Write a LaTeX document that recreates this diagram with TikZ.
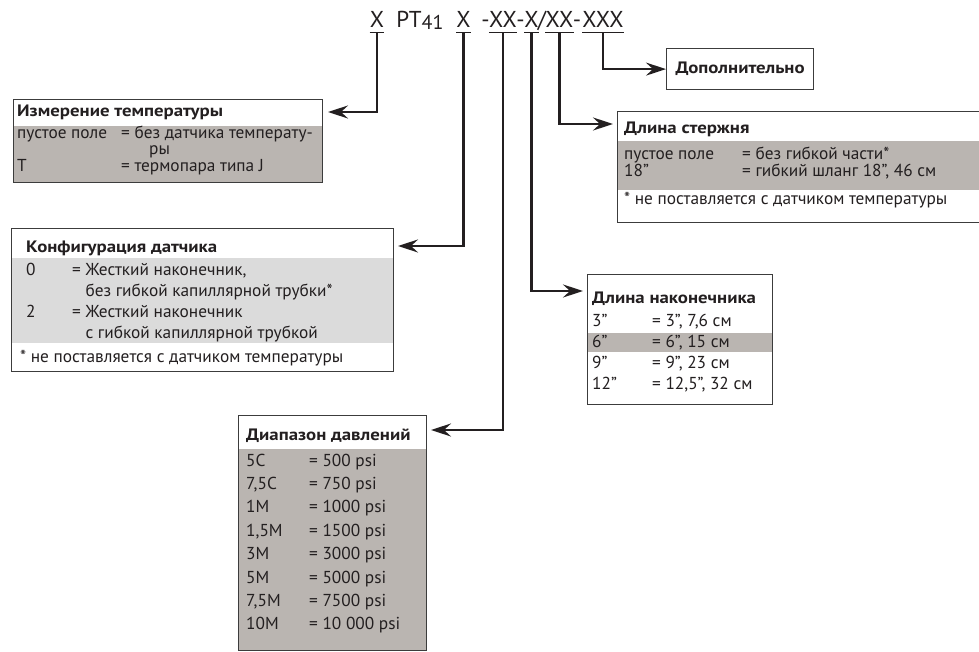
\documentclass[tikz,border=0pt]{standalone}
\usepackage{fontspec}
\setmainfont{PT Sans}
\newfontfamily\ttlfont[FakeStretch=1.14]{PT Sans}
\usetikzlibrary{arrows.meta}
\definecolor{warm}{HTML}{BAB5B1}
\definecolor{lgray}{HTML}{DBDBDB}
\definecolor{ink}{HTML}{231F20}
\definecolor{frame}{HTML}{3C3C3C}
\tikzset{
  txt/.style={anchor=base west, inner sep=0pt, font=\fontsize{17.3}{19}\selectfont, text=ink},
  ttl/.style={anchor=base west, inner sep=0pt, font=\fontsize{16.5}{18}\selectfont\ttlfont\bfseries, text=ink},
  boxframe/.style={draw=frame, line width=1.2pt, inner sep=0pt, anchor=north west},
  conn/.style={draw=ink, line width=2.4pt, -{Stealth[length=20pt,width=13pt,inset=7pt]}},
  code/.style={anchor=base, inner sep=0pt, text depth=4pt, font=\fontsize{23}{23}\selectfont, text=ink},
  uline/.style={draw=ink, line width=0.9pt}
}
\begin{document}
\begin{tikzpicture}[x=1pt,y=-1pt]
\useasboundingbox (0,0) rectangle (979,652);
\clip (0,0) rectangle (979,652);
\fill[white] (0,0) rectangle (979,652);

% ---- code line ----
\node[code] (cX1) at (377,28) {X};
\node[code] (cPT) at (420,28) {PT{\fontsize{20}{20}\selectfont\raisebox{-1.5pt}{41}}};
\node[code] (cX2) at (463.5,28) {X};
\node[code] (cD1) at (485.5,28) {-};
\node[code] (cXX1) at (503,28) {XX};
\node[code] (cD2) at (520.5,28) {-};
\node[code] (cX3) at (531.5,28) {X};
\node[code] (cSl) at (542,28) {/};
\node[code] (cXX2) at (559.5,28) {XX};
\node[code] (cD3) at (577,28) {-};
\node[code] (cXXX) at (603,28) {XXX};
\foreach \n in {cX1,cX2,cXX1,cX3,cXX2,cXXX}
  \draw[uline] (\n.south west) -- (\n.south east);

% ---- fills ----
\fill[warm] (13,126) rectangle (322,182);
\fill[lgray] (10.7,258) rectangle (393,343);
\fill[warm] (238,449) rectangle (426,650);
\fill[warm] (617,141) rectangle (990,190);
\fill[warm] (587,333) rectangle (772,352);

% ---- boxes ----
\node[boxframe, minimum width=309pt, minimum height=83pt] (bTemp) at (13,99) {};
\node[boxframe, minimum width=382.3pt, minimum height=143pt] (bConf) at (10.7,228) {};
\node[boxframe, minimum width=188pt, minimum height=235pt] (bRange) at (238,415) {};
\node[boxframe, minimum width=373pt, minimum height=111pt] (bRod) at (617,111) {};
\node[boxframe, minimum width=185pt, minimum height=130pt] (bTip) at (587,274) {};
\node[boxframe, minimum width=147pt, minimum height=41pt] (bOpt) at (666,48) {};
\node[ttl, anchor=center] (tOpt) at (bOpt.center) {Дополнительно};

% ---- Измерение температуры ----
\node[ttl] (a0) at (17,117) {Измерение температуры};
\node[txt] (a1) at (17,139) {пустое поле};
\node[txt] (a2) at (121,139) {= без датчика температу-};
\node[txt] (a3) at (149,155) {ры};
\node[txt] (a4) at (17,172) {T};
\node[txt] (a5) at (121,172) {= термопара типа J};

% ---- Конфигурация датчика ----
\node[ttl] (b0) at (26,253) {Конфигурация датчика};
\node[txt] (b1) at (26,275) {0};
\node[txt] (b2) at (72,275) {= Жесткий наконечник,};
\node[txt] (b3) at (72,296) {\phantom{= }без гибкой капиллярной трубки*};
\node[txt] (b4) at (26,317) {2};
\node[txt] (b5) at (72,317) {= Жесткий наконечник};
\node[txt] (b6) at (72,338) {\phantom{= }с гибкой капиллярной трубкой};
\node[txt] (b7) at (20,362) {* не поставляется с датчиком температуры};

% ---- Диапазон давлений ----
\node[ttl] (r0) at (246,440) {Диапазон давлений};
\node[txt] (r1l) at (246,466) {5C};    \node[txt] (r1v) at (309,466) {= 500 psi};
\node[txt] (r2l) at (246,489.4) {7,5C};  \node[txt] (r2v) at (309,489.4) {= 750 psi};
\node[txt] (r3l) at (246,512.8) {1M};    \node[txt] (r3v) at (309,512.8) {= 1000 psi};
\node[txt] (r4l) at (246,536.2) {1,5M};  \node[txt] (r4v) at (309,536.2) {= 1500 psi};
\node[txt] (r5l) at (246,559.6) {3M};    \node[txt] (r5v) at (309,559.6) {= 3000 psi};
\node[txt] (r6l) at (246,583) {5M};      \node[txt] (r6v) at (309,583) {= 5000 psi};
\node[txt] (r7l) at (246,606.4) {7,5M};  \node[txt] (r7v) at (309,606.4) {= 7500 psi};
\node[txt] (r8l) at (246,629.8) {10M};   \node[txt] (r8v) at (309,629.8) {= 10 000 psi};

% ---- Длина стержня ----
\node[ttl] (s0) at (624,134) {Длина стержня};
\node[txt] (s1) at (624,160) {пустое поле};
\node[txt] (s2) at (742,160) {= без гибкой части*};
\node[txt] (s3) at (624,177) {18”};
\node[txt] (s4) at (742,177) {= гибкий шланг 18”, 46 см};
\node[txt] (s5) at (624,205) {* не поставляется с датчиком температуры};

% ---- Длина наконечника ----
\node[ttl] (n0) at (592,303) {Длина наконечника};
\node[txt] (n1l) at (592,326) {3”};  \node[txt] (n1v) at (652,326) {= 3”, 7,6 см};
\node[txt] (n2l) at (592,347) {6”};  \node[txt] (n2v) at (652,347) {= 6”, 15 см};
\node[txt] (n3l) at (592,368) {9”};  \node[txt] (n3v) at (652,368) {= 9”, 23 см};
\node[txt] (n4l) at (592,389) {12”}; \node[txt] (n4v) at (652,389) {= 12,5”, 32 см};

% ---- connectors ----
\coordinate (pTemp) at (328,112);
\coordinate (pConf) at (398,246);
\coordinate (pRange) at (431,430);
\coordinate (pTip) at (583,291);
\coordinate (pRod) at (613,124);
\draw[conn] (cX1.south) |- (pTemp);
\draw[conn] (cX2.south) |- (pConf);
\draw[conn] (cXX1.south) |- (pRange);
\draw[conn] (cX3.south) |- (pTip);
\draw[conn] (cXX2.south) |- (pRod);
\draw[conn] (cXXX.south) |- (bOpt.west);
\end{tikzpicture}
\end{document}
